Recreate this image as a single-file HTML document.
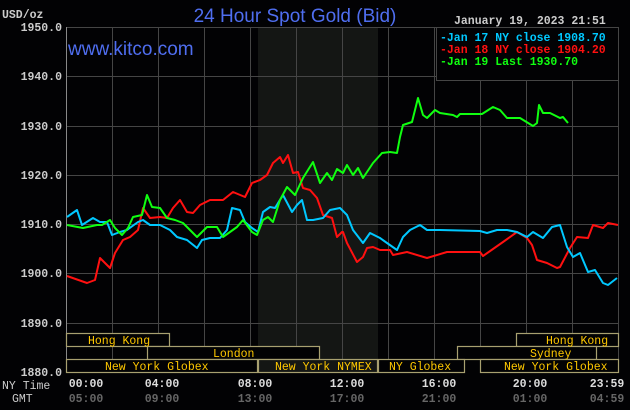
<!DOCTYPE html>
<html><head><style>
body{margin:0;background:#000;width:630px;height:410px;overflow:hidden}
svg{display:block}
text{font-family:"Liberation Mono",monospace;font-size:11.5px;font-weight:bold}
text.n{font-weight:normal}
text.s{font-family:"Liberation Sans",sans-serif;font-size:19px;font-weight:normal}
</style></head><body>
<svg width="630" height="410" viewBox="0 0 630 410" xmlns="http://www.w3.org/2000/svg">
<rect width="630" height="410" fill="#020204"/>
<rect x="258" y="27" width="120" height="345" fill="#141614"/>
<g stroke="#454545" stroke-width="1">
<line x1="66.5" y1="27" x2="66.5" y2="372"/>
<line x1="112.5" y1="27" x2="112.5" y2="372"/>
<line x1="158.5" y1="27" x2="158.5" y2="372"/>
<line x1="204.5" y1="27" x2="204.5" y2="372"/>
<line x1="250.5" y1="27" x2="250.5" y2="372"/>
<line x1="296.5" y1="27" x2="296.5" y2="372"/>
<line x1="342.5" y1="27" x2="342.5" y2="372"/>
<line x1="388.5" y1="27" x2="388.5" y2="372"/>
<line x1="434.5" y1="27" x2="434.5" y2="372"/>
<line x1="480.5" y1="80" x2="480.5" y2="372"/>
<line x1="526.5" y1="80" x2="526.5" y2="372"/>
<line x1="572.5" y1="80" x2="572.5" y2="372"/>
<line x1="618.5" y1="27" x2="618.5" y2="372"/>
<line x1="66" y1="27.5" x2="618" y2="27.5"/>
<line x1="66" y1="76.5" x2="436" y2="76.5"/>
<line x1="66" y1="126.5" x2="618" y2="126.5"/>
<line x1="66" y1="175.5" x2="618" y2="175.5"/>
<line x1="66" y1="224.5" x2="618" y2="224.5"/>
<line x1="66" y1="273.5" x2="618" y2="273.5"/>
<line x1="66" y1="323.5" x2="618" y2="323.5"/>
<line x1="436.5" y1="27" x2="436.5" y2="80"/>
<line x1="436" y1="80.5" x2="618" y2="80.5"/>
</g>
<rect x="437" y="28" width="181" height="52" fill="#020204"/>
<line x1="66.5" y1="27" x2="66.5" y2="372" stroke="#888"/>
<g fill="#ccc" text-anchor="end">
<text x="62" y="31">1950.0</text><text x="62" y="80">1940.0</text><text x="62" y="130">1930.0</text><text x="62" y="179">1920.0</text><text x="62" y="228">1910.0</text><text x="62" y="277">1900.0</text><text x="62" y="327">1890.0</text><text x="62" y="376">1880.0</text>
</g>
<text x="2" y="18" fill="#ccc">USD/oz</text>
<text class="s" x="295" y="22" text-anchor="middle" fill="#4f6ef0">24 Hour Spot Gold (Bid)</text>
<text class="s" x="68" y="55" fill="#4f6ef0">www.kitco.com</text>
<text x="454" y="24" fill="#ccc">January 19, 2023 21:51</text>
<text x="440" y="41" fill="#00c8ff">-Jan 17 NY close 1908.70</text>
<text x="440" y="53" fill="#ff1010">-Jan 18 NY close 1904.20</text>
<text x="440" y="65" fill="#10ff10">-Jan 19 Last 1930.70</text>
<g fill="none" stroke-width="2" stroke-linejoin="round">
<polyline stroke="#ff1010" points="67,276 87,283 95,280 100,258 110,268 115,253 123,240 130,237 138,230 143,208 150,218 160,217 167,218 173,208 180,200 187,212 193,213 200,205 210,200 223,200 233,192 245,197 252,183 260,180 267,175 273,163 280,157 283,163 288,155 293,173 298,172 303,188 310,190 317,198 323,215 332,218 337,237 342,232 343,232 347,243 357,262 363,257 367,248 373,247 380,250 390,250 393,255 407,252 427,258 447,252 457,252 480,252 483,256 493,249 503,242 517,232 527,238 532,245 537,260 547,263 557,268 560,267 570,248 577,237 588,238 593,225 603,228 608,223 618,225"/>
<polyline stroke="#00c8ff" points="67,217 77,210 82,225 93,218 100,222 107,222 112,235 120,232 127,230 138,222 143,220 150,225 160,225 170,230 177,237 187,240 197,248 202,240 210,238 220,238 227,230 232,208 240,210 245,222 252,228 258,232 263,212 270,207 275,208 283,195 292,212 297,205 302,200 307,220 313,220 323,218 330,210 340,208 347,215 353,230 363,243 370,233 380,238 387,243 397,250 403,237 410,230 420,225 427,230 440,230 480,231 487,233 497,230 507,230 517,232 527,237 533,232 543,238 552,227 560,225 567,247 573,257 580,253 588,272 595,270 603,283 608,285 617,278"/>
<polyline stroke="#10ff10" points="67,225 83,228 97,225 102,225 110,220 115,228 122,235 128,228 133,217 142,215 147,195 152,207 160,208 167,218 175,220 183,223 197,237 207,227 217,227 223,237 230,232 237,227 243,220 252,232 257,235 263,220 268,217 273,222 280,200 287,187 295,195 303,178 313,162 320,183 327,173 332,180 337,169 343,173 347,165 353,175 358,168 363,178 373,163 382,153 390,152 397,153 400,137 403,125 412,122 418,98 423,115 427,118 435,110 440,113 453,115 457,117 460,114 482,114 493,107 500,110 507,118 520,118 533,126 537,123 539,105 543,113 550,113 560,118 563,117 568,123"/>
</g>
<g stroke="#a8a070" fill="#020204" stroke-width="1.2">
<rect x="66.5" y="333.5" width="103" height="13"/>
<rect x="516.5" y="333.5" width="102" height="13"/>
<rect x="147.5" y="346.5" width="172" height="13"/>
<rect x="457.5" y="346.5" width="139" height="13"/>
<rect x="66.5" y="359.5" width="191" height="13"/>
<rect x="258.5" y="359.5" width="119" height="13" fill="#141614"/>
<rect x="378.5" y="359.5" width="86" height="13"/>
<rect x="480.5" y="359.5" width="138" height="13"/>
</g>
<g fill="#ffc800">
<text class="n" x="88" y="344">Hong Kong</text>
<text class="n" x="546" y="344">Hong Kong</text>
<text class="n" x="213" y="357">London</text>
<text class="n" x="530" y="357">Sydney</text>
<text class="n" x="105" y="370">New York Globex</text>
<text class="n" x="275" y="370">New York NYMEX</text>
<text class="n" x="389" y="370">NY Globex</text>
<text class="n" x="504" y="370">New York Globex</text>
</g>
<text class="n" x="2" y="389" fill="#ccc">NY Time</text>
<text class="n" x="12" y="402" fill="#ccc">GMT</text>
<g fill="#ddd" text-anchor="middle">
<text x="86" y="387">00:00</text><text x="162" y="387">04:00</text><text x="255" y="387">08:00</text><text x="347" y="387">12:00</text><text x="439" y="387">16:00</text><text x="530" y="387">20:00</text><text x="607" y="387">23:59</text>
</g>
<g fill="#666" text-anchor="middle">
<text x="86" y="402">05:00</text><text x="162" y="402">09:00</text><text x="255" y="402">13:00</text><text x="347" y="402">17:00</text><text x="439" y="402">21:00</text><text x="530" y="402">01:00</text><text x="607" y="402">04:59</text>
</g>
</svg>
</body></html>
